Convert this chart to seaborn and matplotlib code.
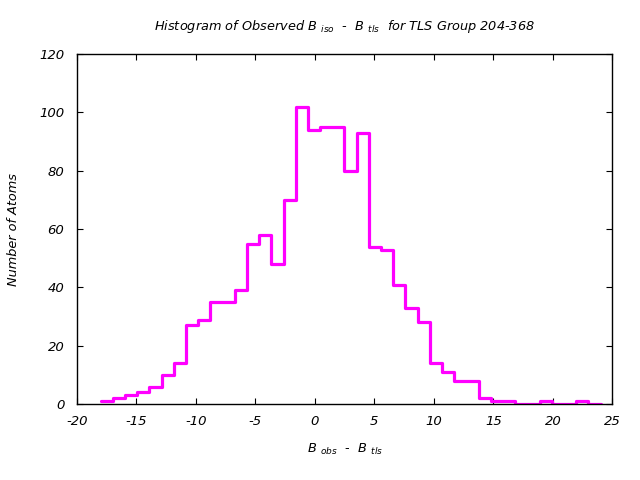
#data wrangling imports
import numpy as np
import pandas as pd

#vizualizations
import matplotlib
matplotlib.use("Agg")
import matplotlib.pyplot as plt
import seaborn as sns

# histogram of B_obs - B_tls, 41 bins between -18 and 24
bin_start = -18.0
bin_stop = 24.0
counts = [1, 2, 3, 4, 6, 10, 14, 27, 29, 35, 35, 39, 55, 58, 48, 70, 102,
          94, 95, 95, 80, 93, 54, 53, 41, 33, 28, 14, 11, 8, 8, 2, 1, 1,
          0, 0, 1, 0, 0, 1, 0]
x_ticks = [-20, -15, -10, -5, 0, 5, 10, 15, 20, 25]
y_ticks = [0, 20, 40, 60, 80, 100, 120]


def tls_histogram(counts):
    '''
    Draws the gnuplot-like step histogram of the observed vs tls B factors.
    '''
    edges = np.linspace(bin_start, bin_stop, len(counts) + 1)
    df = pd.DataFrame({"center": (edges[:-1] + edges[1:]) / 2,
                       "count": counts})

    fig, ax = plt.subplots(figsize=(6.4, 4.8), dpi=100)
    fig.subplots_adjust(left=0.12, right=0.957, top=0.8875, bottom=0.158)

    sns.histplot(data=df, x="center", weights="count", bins=len(counts),
                 binrange=(bin_start, bin_stop),
                 element="step", fill=False, color="#FF00FF",
                 linewidth=2.3, ax=ax, zorder=1)

    ax.set_xlim(-20, 25)
    ax.set_ylim(0, 120)
    ax.set_xticks(x_ticks)
    ax.set_yticks(y_ticks)
    ax.tick_params(axis="x", pad=8)
    ax.tick_params(axis="y", pad=9)
    ax.tick_params(direction="in", length=4.5, width=0.8, top=True,
                   right=True, labelsize=9.5, colors="black")
    for lab in ax.get_xticklabels() + ax.get_yticklabels():
        lab.set_fontstyle("italic")
    for sp in ax.spines.values():
        sp.set_visible(True)
        sp.set_linewidth(1.0)
        sp.set_color("black")
        sp.set_zorder(3)

    ax.set_title(r"Histogram of Observed $B\ _{iso}$  -  $B\ _{tls}$  for TLS Group 204-368",
                 fontsize=9.3, fontstyle="italic", pad=17, color="black")
    ax.set_xlabel(r"$B\ _{obs}$  -  $B\ _{tls}$", fontsize=9.3, labelpad=10,
                  color="black")
    ax.set_ylabel("Number of Atoms", fontsize=9.3, fontstyle="italic",
                  labelpad=14, color="black")

    plt.savefig("out.png", dpi=100)


sns.set_style("ticks")
plt.rcParams["font.family"] = ["DejaVu Sans"]
plt.rcParams["axes.unicode_minus"] = False
plt.rcParams["mathtext.fontset"] = "custom"
plt.rcParams["mathtext.it"] = "DejaVu Sans:italic"
plt.rcParams["mathtext.rm"] = "DejaVu Sans:italic"
tls_histogram(counts)
